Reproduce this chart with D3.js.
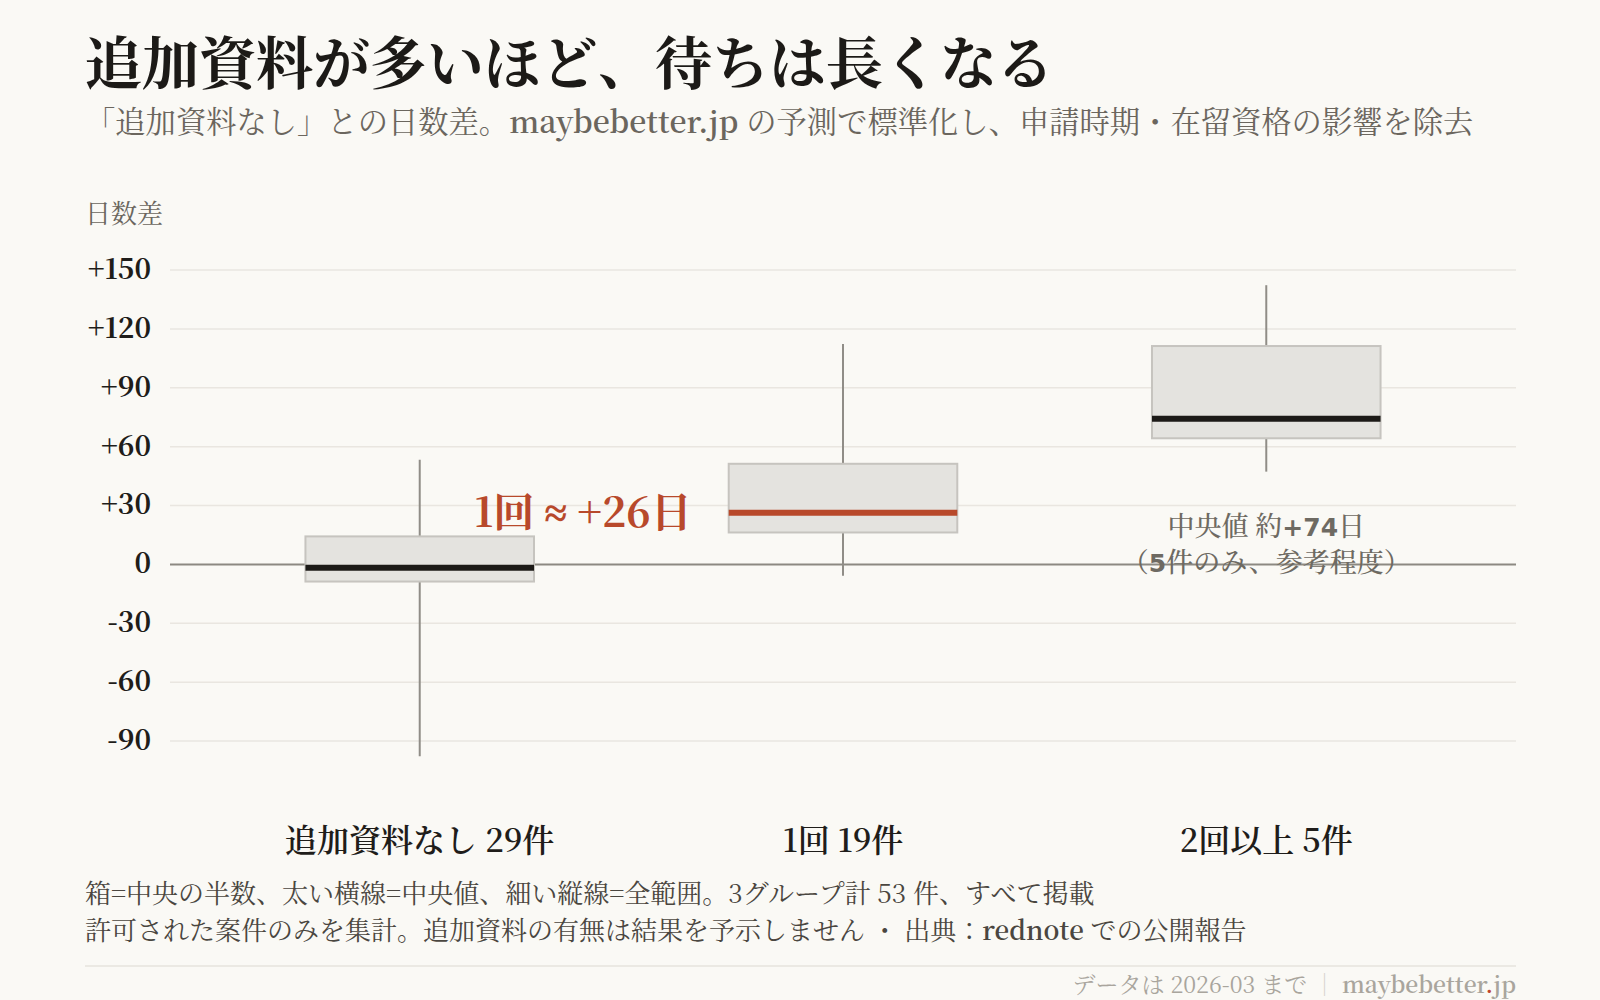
<!DOCTYPE html>
<html lang="ja">
<head>
<meta charset="utf-8">
<script src="https://cdn.jsdelivr.net/npm/d3@7"></script>
<style>
  html, body { margin: 0; padding: 0; background: #faf9f5; }
  svg { display: block; }
  text { font-family: "Noto Serif CJK JP", "Noto Serif JP", "Source Serif Pro", "DejaVu Serif", serif; }
</style>
</head>
<body>
<svg id="chart"></svg>
<script>
// groups and their counts
const groupNames = ['追加資料なし', '1回', '2回以上'];
const groupCounts = [29, 19, 5];

// box plot stats, days difference vs. "no extra documents"
const mins    = [-98, -6, 47];
const q1s     = [-9, 16, 64];
const medians = [-2, 26, 74];
const q3s     = [14, 51, 111];
const maxs    = [53, 112, 142];

const yTicks = [-90, -60, -30, 0, 30, 60, 90, 120, 150];

const width = 1600;
const height = 1000;
const margin = { left: 170, right: 84 };

const svg = d3.select('#chart')
    .attr('width', width)
    .attr('height', height);

const data = groupNames.map((name, i) => ({
    name: name,
    label: name + ' ' + groupCounts[i] + '件',
    min: mins[i], q1: q1s[i], median: medians[i], q3: q3s[i], max: maxs[i]
}));

const xScale = d3.scalePoint()
    .domain(groupNames)
    .range([margin.left, width - margin.right])
    .padding(0.59);

const yScale = d3.scaleLinear()
    .domain([-90, 150])
    .range([740.5, 269.5]);

const boxWidth = xScale.step() * 0.54;
const fmt = d => d > 0 ? '+' + d : (d < 0 ? '-' + Math.abs(d) : '0');

// title + subtitle
svg.append('text')
    .attr('x', 85).attr('y', 84)
    .attr('font-size', 57).attr('font-weight', 700)
    .attr('fill', '#1c1a17')
    .text('追加資料が多いほど、待ちは長くなる');

const sub = svg.append('text')
    .attr('x', 85).attr('y', 133)
    .attr('font-size', 30.3)
    .attr('fill', '#6b665e');
sub.append('tspan').text('「追加資料なし」との日数差。');
sub.append('tspan').attr('font-weight', 600).text('maybebetter.jp');
sub.append('tspan').text(' の予測で標準化し、申請時期・在留資格の影響を除去');

svg.append('text')
    .attr('x', 85).attr('y', 223)
    .attr('font-size', 26)
    .attr('fill', '#6b665e')
    .text('日数差');

// y axis with gridlines
const yAxis = svg.append('g')
    .attr('transform', `translate(${margin.left},0)`)
    .call(d3.axisLeft(yScale)
        .tickValues(yTicks)
        .tickFormat(fmt)
        .tickSize(-(width - margin.left - margin.right))
        .tickPadding(19));

yAxis.select('.domain').remove();
yAxis.selectAll('.tick line')
    .attr('stroke', d => d === 0 ? '#8c8982' : '#e9e6e0')
    .attr('stroke-width', d => d === 0 ? 2 : 1.5);
yAxis.selectAll('.tick text')
    .attr('font-size', 28)
    .attr('font-weight', 700)
    .attr('fill', '#1f1d1a')
    .attr('font-family', '"Noto Serif CJK JP", "Source Serif Pro", "DejaVu Serif", serif');

const plot = svg.append('g');

// whiskers (full range)
plot.selectAll('.whisker')
    .data(data)
    .join('line')
    .attr('class', 'whisker')
    .attr('x1', d => xScale(d.name))
    .attr('x2', d => xScale(d.name))
    .attr('y1', d => yScale(d.max))
    .attr('y2', d => yScale(d.min))
    .attr('stroke', '#908d87')
    .attr('stroke-width', 2);

// boxes (middle half)
plot.selectAll('.box')
    .data(data)
    .join('rect')
    .attr('class', 'box')
    .attr('x', d => xScale(d.name) - boxWidth / 2)
    .attr('y', d => yScale(d.q3))
    .attr('width', boxWidth)
    .attr('height', d => yScale(d.q1) - yScale(d.q3))
    .attr('fill', '#e4e3df')
    .attr('stroke', '#c6c4bf')
    .attr('stroke-width', 2);

// medians
plot.selectAll('.median')
    .data(data)
    .join('line')
    .attr('class', 'median')
    .attr('x1', d => xScale(d.name) - boxWidth / 2)
    .attr('x2', d => xScale(d.name) + boxWidth / 2)
    .attr('y1', d => yScale(d.median))
    .attr('y2', d => yScale(d.median))
    .attr('stroke', (d, i) => i === 1 ? '#b8492b' : '#1c1a17')
    .attr('stroke-width', 6);

// callout for the single-request group
const g1 = data[1];
const callout = svg.append('text')
    .attr('x', xScale(g1.name) - boxWidth / 2 - 37)
    .attr('y', yScale(g1.median))
    .attr('dy', '0.35em')
    .attr('text-anchor', 'end')
    .attr('font-size', 41)
    .attr('font-weight', 700)
    .attr('fill', '#b8492b');
callout.append('tspan').text('1回 ');
callout.append('tspan').attr('font-family', '"Liberation Serif", serif').text('≈');
callout.append('tspan').text(' +' + g1.median + '日');

// note under the small group
const g2 = data[2];
const sansNum = '"DejaVu Sans", sans-serif';
const note = svg.append('text')
    .attr('text-anchor', 'middle')
    .attr('font-size', 27)
    .attr('font-weight', 500)
    .attr('fill', '#6e6a62');
const line1 = note.append('tspan')
    .attr('x', xScale(g2.name)).attr('y', 536);
line1.append('tspan').text('中央値 約');
line1.append('tspan').attr('font-family', sansNum).attr('font-weight', 700)
    .attr('font-size', 25).text('+' + g2.median);
line1.append('tspan').text('日');
const line2 = note.append('tspan')
    .attr('x', xScale(g2.name)).attr('y', 572);
line2.append('tspan').text('（');
line2.append('tspan').attr('font-family', sansNum).attr('font-weight', 700)
    .attr('font-size', 25).text(groupCounts[2]);
line2.append('tspan').text('件のみ、参考程度）');

// category labels
svg.selectAll('.cat-label')
    .data(data)
    .join('text')
    .attr('class', 'cat-label')
    .attr('x', d => xScale(d.name))
    .attr('y', 852)
    .attr('text-anchor', 'middle')
    .attr('font-size', 32)
    .attr('font-weight', 600)
    .attr('fill', '#1f1d1a')
    .text(d => d.label);

// notes
svg.append('text')
    .attr('x', 85).attr('y', 903)
    .attr('font-size', 26)
    .attr('fill', '#4a4640')
    .text('箱=中央の半数、太い横線=中央値、細い縦線=全範囲。3グループ計 53 件、すべて掲載');

const src = svg.append('text')
    .attr('x', 85).attr('y', 940)
    .attr('font-size', 26)
    .attr('fill', '#4a4640');
src.append('tspan').text('許可された案件のみを集計。追加資料の有無は結果を予示しません ・ 出典：');
src.append('tspan').attr('font-weight', 600).text('rednote');
src.append('tspan').text(' での公開報告');

svg.append('line')
    .attr('x1', 85).attr('x2', width - margin.right)
    .attr('y1', 966).attr('y2', 966)
    .attr('stroke', '#e6e3dd')
    .attr('stroke-width', 1.5);

// footer
const foot = svg.append('text')
    .attr('x', width - margin.right).attr('y', 993)
    .attr('text-anchor', 'end')
    .attr('font-size', 23)
    .attr('fill', '#a9a59d');
foot.append('tspan').text('データは 2026-03 まで ');
foot.append('tspan').attr('fill', '#d6d3cc').text('｜');
foot.append('tspan').attr('font-weight', 600).text(' maybebetter');
foot.append('tspan').attr('font-weight', 600).attr('fill', '#c0442a').text('.');
foot.append('tspan').attr('font-weight', 600).text('jp');
</script>
</body>
</html>
